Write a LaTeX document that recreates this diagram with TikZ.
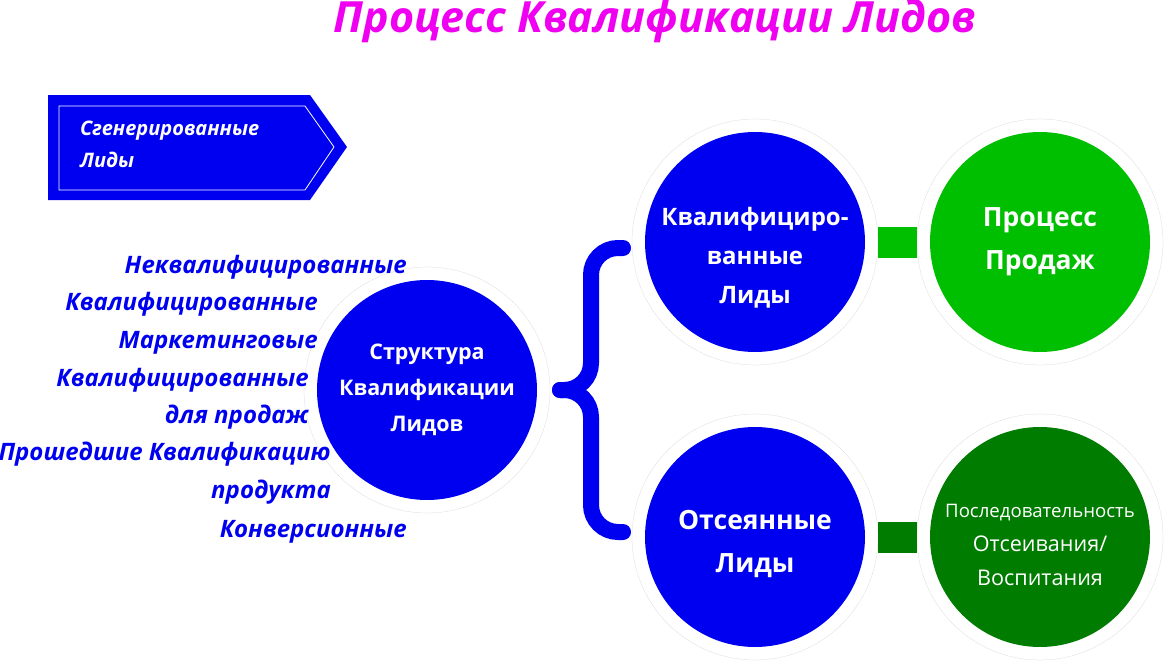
\documentclass[tikz,border=0pt]{standalone}
\usepackage{fontspec}
\setmainfont{Open Sans}
\usetikzlibrary{calc}
\definecolor{lblue}{RGB}{0,0,240}
\definecolor{lmagenta}{RGB}{240,0,240}
\definecolor{lgreen}{RGB}{0,190,0}
\definecolor{ldgreen}{RGB}{0,124,0}
\tikzset{
ring/.style={circle, draw=gray!35, very thin, fill=white, minimum size=246pt, inner sep=0pt, outer sep=0pt},
disk/.style={circle, minimum size=220pt, inner sep=0pt},
ctext/.style={text=white, align=center, inner sep=0pt},
item/.style={text=lblue, anchor=base east, inner sep=0pt, font=\bfseries\itshape\fontsize{24}{28}\selectfont},
brace/.style={lblue, line width=16pt, line cap=round, rounded corners=27pt},
}

\begin{document}
\begin{tikzpicture}[x=1pt,y=-1pt]
\useasboundingbox (0,0) rectangle (1165,661);
% title
\node[text=lmagenta, font=\bfseries\itshape\fontsize{43}{47}\selectfont, inner sep=0pt] (title) at (655,21) {Процесс Квалификации Лидов};
% arrow box
\fill[lblue] (48,95) -- (310,95) -- (347,147) -- (310,200) -- (48,200) -- cycle;
\draw[white, thick] (59,106) -- (305,106) -- (334,147) -- (305,190) -- (59,190) -- cycle;
\node[text=white, align=left, anchor=north west, inner sep=0pt, font=\bfseries\itshape\fontsize{20}{32}\selectfont] (gen) at (80,121) {Сгенерированные\\Лиды};
% circles
\node[ring] (sring) at (427,390) {};
\node[disk, fill=lblue] (struct) at (sring) {};
\node[ring] (qring) at (755,242) {};
\node[disk, fill=lblue] (qual) at (qring) {};
\node[ring] (pring) at (1040,242) {};
\node[disk, fill=lgreen] (sales) at (pring) {};
\node[ring] (oring) at (755,537) {};
\node[disk, fill=lblue] (out) at (oring) {};
\node[ring] (nring) at (1040,537) {};
\node[disk, fill=ldgreen] (nurt) at (nring) {};
% texts in circles
\node[ctext, font=\bfseries\fontsize{21.5}{36}\selectfont] (structtext) at (struct) {Структура\\Квалификации\\Лидов};
\node[ctext, font=\bfseries\fontsize{24}{39}\selectfont] (qualtext) at ($(qual)+(0,16)$) {Квалифициро-\\ванные\\Лиды};
\node[ctext, font=\bfseries\fontsize{26.5}{43}\selectfont] (salestext) at (sales) {Процесс\\Продаж};
\node[ctext, font=\bfseries\fontsize{26.5}{43}\selectfont] (outtext) at ($(out)+(0,7)$) {Отсеянные\\Лиды};
\node[ctext, font=\fontsize{18.6}{34}\selectfont] (nurttext) at ($(nurt)+(0,8)$) {Последовательность\\{\fontsize{21.6}{34}\selectfont Отсеивания/}\\{\fontsize{21.6}{34}\selectfont Воспитания}};
% brace
\coordinate (tip) at ($(sring.east)+(10,0)$);
\draw[brace] ($(qring.west)+(-9,6)$) -| (591,390) -- (tip);
\draw[brace] ($(oring.west)+(-9,-5)$) -| (591,390) -- (tip);
% links
\draw[lgreen, line width=31pt] (qring) -- (pring);
\draw[ldgreen, line width=31pt] (oring) -- (nring);
% lead types
\node[item] (l1) at (407,273) {Неквалифицированные};
\node[item] (l2) at (318,310) {Квалифицированные};
\node[item] (l3) at (318,348) {Маркетинговые};
\node[item] (l4) at (309,386) {Квалифицированные};
\node[item] (l5) at (309,423) {для продаж};
\node[item] (l6) at (331,460) {Прошедшие Квалификацию};
\node[item] (l7) at (331,498) {продукта};
\node[item] (l8) at (407,537) {Конверсионные};
\end{tikzpicture}
\end{document}
